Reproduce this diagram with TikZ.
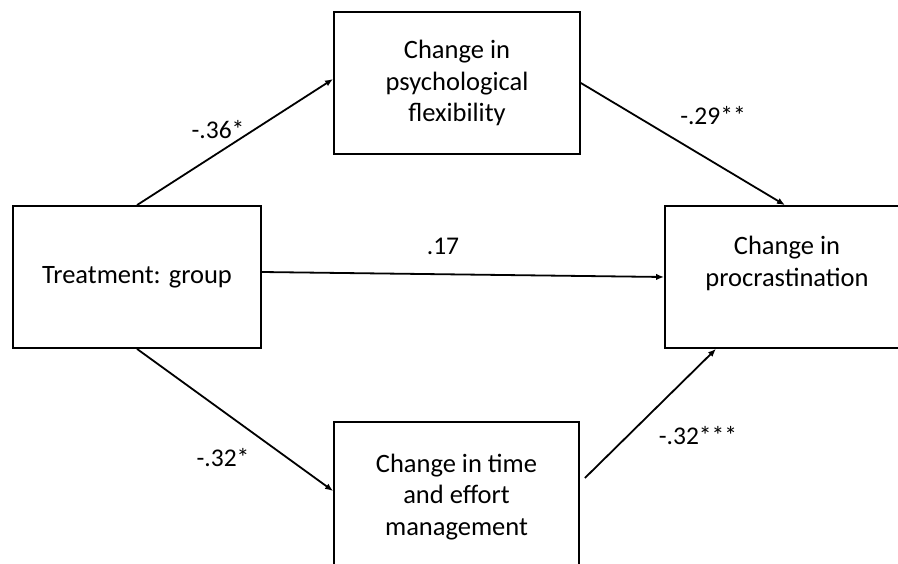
\documentclass[tikz,border=0pt]{standalone}
\usepackage{fontspec}
\setmainfont{Carlito}
\usetikzlibrary{arrows.meta}
\begin{document}
\begin{tikzpicture}[x=1pt,y=-1pt,
  box/.style={draw=black,line width=1.8pt,align=center,font=\fontsize{26.5}{31.5}\selectfont,inner sep=0pt},
  lbl/.style={font=\fontsize{25.5}{30}\selectfont,inner sep=0pt},
  conn/.style={line width=1.8pt,-{Latex[length=8pt,width=6.5pt]}}]
\useasboundingbox (0,0) rectangle (898,563);
\begin{scope}
\clip (0,0) rectangle (898,563);
\node[box,minimum width=248pt,minimum height=142pt] (treat) at (137,277) {Treatment: group};
\node[box,minimum width=246pt,minimum height=142pt] (flex) at (457,83) {Change in\\psychological\\flexibility};
\node[box,minimum width=244pt,minimum height=142pt] (proc) at (787,277) {Change in\\procrastination\\\mbox{}};
\node[box,minimum width=245pt,minimum height=150pt] (time) at (456.5,497) {Change in time\\and effort\\management};
\end{scope}
\coordinate (t1) at ([yshift=4pt]flex.west);
\coordinate (p1) at ([xshift=-2pt]proc.north);
\coordinate (t3) at ([yshift=5pt]treat.east);
\coordinate (m4) at ([yshift=6pt]time.west);
\coordinate (s5) at ([shift={(5pt,19pt)}]time.east);
\coordinate (p5) at ([xshift=-71pt]proc.south);
\draw[conn] (treat.north) -- (t1);
\draw[conn] (flex.east) -- (p1);
\draw[conn] (t3) -- (proc.west);
\draw[conn] (treat.south) -- (m4);
\draw[conn] (s5) -- (p5);
\node[lbl] (l1) at (218,130) {-.36*};
\node[lbl] (l2) at (713,116) {-.29**};
\node[lbl] (l3) at (443,246) {.17};
\node[lbl] (l4) at (223,458) {-.32*};
\node[lbl] (l5) at (698,436) {-.32***};
\end{tikzpicture}
\end{document}
